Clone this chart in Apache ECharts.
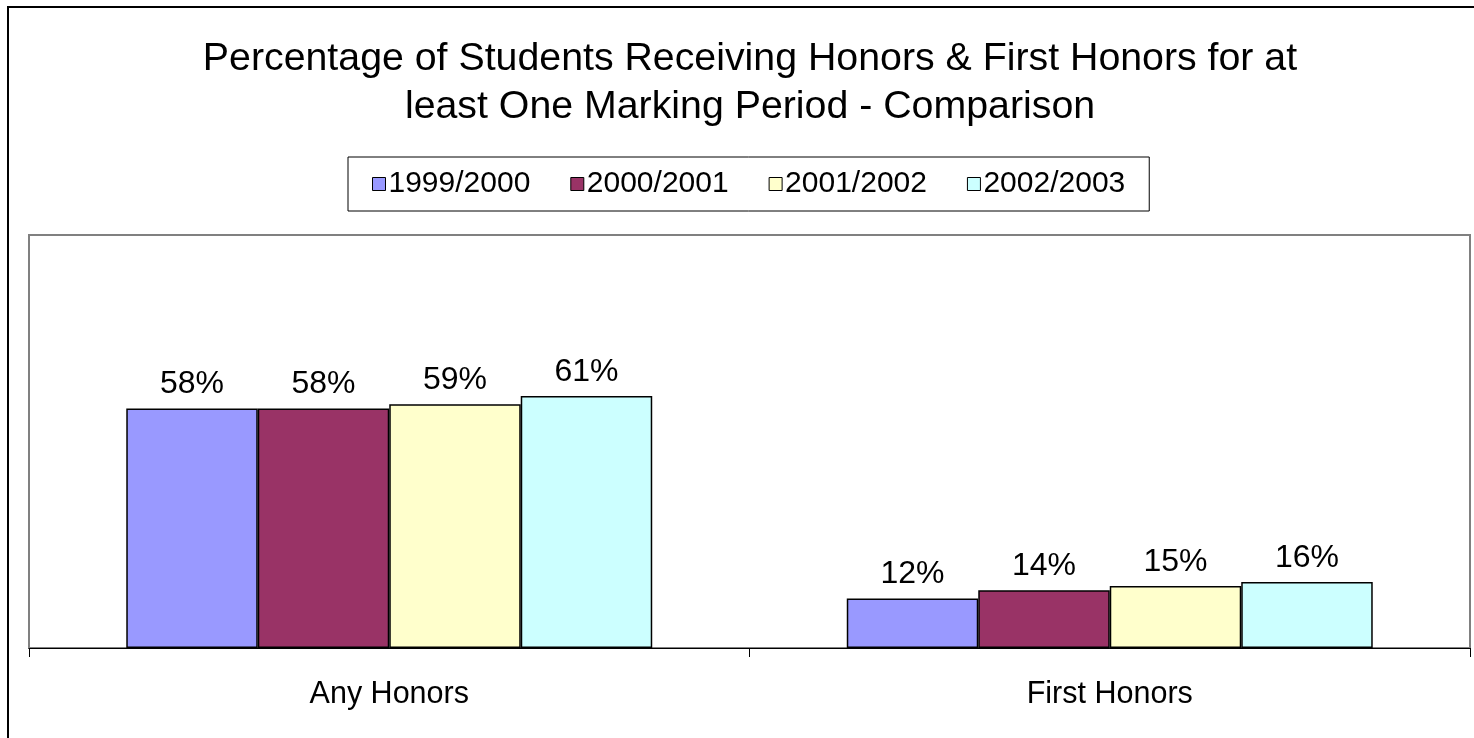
<!DOCTYPE html>
<html>
<head>
<meta charset="utf-8">
<script src="https://cdn.jsdelivr.net/npm/echarts@6/dist/echarts.min.js"></script>
<style>
html,body{margin:0;padding:0;background:#fff;}
#chart{width:1474px;height:738px;}
</style>
</head>
<body>
<div id="chart"></div>
<script>
const categories = ['Any Honors', 'First Honors'];
const seriesNames = ['1999/2000', '2000/2001', '2001/2002', '2002/2003'];
const v1999 = [58, 12];
const v2000 = [58, 14];
const v2001 = [59, 15];
const v2002 = [61, 16];
const seriesValues = [v1999, v2000, v2001, v2002];
const colors = ['#9999FF', '#993366', '#FFFFCC', '#CCFFFF'];
const FONT = '"Liberation Sans", Arial, sans-serif';

const chart = echarts.init(document.getElementById('chart'), null, {renderer: 'canvas'});
chart.setOption({
  animation: false,
  backgroundColor: '#fff',
  textStyle: {fontFamily: FONT, color: '#000'},
  title: {
    text: 'Percentage of Students Receiving Honors & First Honors for at\nleast One Marking Period - Comparison',
    left: 745,
    textAlign: 'center',
    top: 30,
    textStyle: {fontFamily: FONT, fontSize: 39.3, fontWeight: 'normal', lineHeight: 48, color: '#000'}
  },
  legend: {
    data: seriesNames,
    top: 157,
    left: 348,
    itemWidth: 13,
    itemHeight: 13,
    itemGap: 40,
    padding: [12, 24],
    borderColor: '#000',
    borderWidth: 1,
    icon: 'rect',
    textStyle: {fontFamily: FONT, fontSize: 30, color: '#000', padding: [0, 0, 0, -2]},
    itemStyle: {borderColor: '#000', borderWidth: 1}
  },
  grid: {
    left: 29, right: 4, top: 235, bottom: 90,
    show: true, borderColor: '#808080', borderWidth: 2,
    containLabel: false
  },
  xAxis: {
    type: 'category',
    data: categories,
    axisLine: {lineStyle: {color: '#000', width: 1}},
    axisTick: {show: true, length: 9, lineStyle: {color: '#000'}},
    axisLabel: {fontFamily: FONT, fontSize: 30.5, color: '#000', margin: 31}
  },
  yAxis: {
    type: 'value', min: 0, max: 100,
    show: false,
    splitLine: {show: false}
  },
  series: seriesNames.map((name, i) => ({
    name: name,
    type: 'bar',
    data: seriesValues[i],
    barGap: '0%',
    barCategoryGap: '27%',
    itemStyle: {color: colors[i], borderColor: '#000', borderWidth: 1.5},
    label: {
      show: true, position: 'top', distance: 8,
      fontFamily: FONT, fontSize: 32, color: '#000',
      formatter: p => Math.round(p.value) + '%'
    }
  })),
  graphic: [{
    type: 'rect',
    shape: {x: 8, y: 7, width: 1500, height: 800},
    style: {fill: 'none', stroke: '#000', lineWidth: 2},
    silent: true
  }]
});
</script>
</body>
</html>
